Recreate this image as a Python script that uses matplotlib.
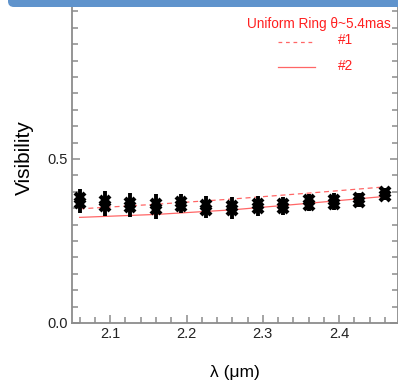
import matplotlib.pyplot as plt
import numpy as np
from matplotlib.patches import FancyBboxPatch
from matplotlib.ticker import FixedLocator, MultipleLocator

plt.rcParams['font.family'] = ['Liberation Sans', 'DejaVu Sans']

# measured visibilities, two exposures per spectral channel
wavelength = [2.060, 2.093, 2.126, 2.160, 2.193, 2.226, 2.260,
              2.293, 2.326, 2.360, 2.393, 2.426, 2.460]
vis_a = [0.380, 0.372, 0.367, 0.362, 0.369, 0.361, 0.356,
         0.364, 0.363, 0.374, 0.376, 0.381, 0.400]
vis_b = [0.366, 0.358, 0.353, 0.348, 0.357, 0.345, 0.344,
         0.350, 0.351, 0.360, 0.364, 0.369, 0.386]
vis_mid = [0.373, 0.365, 0.360, 0.355, 0.363, 0.353, 0.350,
           0.357, 0.357, 0.367, 0.370, 0.375, 0.393]
vis_err = [0.037, 0.038, 0.037, 0.038, 0.029, 0.034, 0.034,
           0.031, 0.027, 0.027, 0.026, 0.022, 0.018]

# uniform ring model curves
model_wl = [2.06, 2.16, 2.26, 2.36, 2.46]
model_1 = [0.348, 0.362, 0.378, 0.396, 0.415]
model_2 = [0.322, 0.331, 0.345, 0.365, 0.386]

fig = plt.figure(figsize=(3.98, 3.82), dpi=100)
ax = fig.add_axes([72 / 398, 59 / 382, 326 / 398, 328 / 382])

line_red = '#ff6666'
ax.plot(model_wl, model_1, '--', color=line_red, lw=0.9, dashes=(4, 3))
ax.plot(model_wl, model_2, '-', color=line_red, lw=0.9)

ax.errorbar(wavelength, vis_mid, yerr=vis_err, fmt='none',
            ecolor='black', elinewidth=2.8, capsize=0)
for v in (vis_a, vis_b):
    ax.plot(wavelength, v, 'x', color='black', ms=6.5, mew=3)

ax.set_xlim(2.05, 2.477)
ax.set_ylim(0.0, 1.0)
ax.xaxis.set_major_locator(MultipleLocator(0.1))
ax.xaxis.set_minor_locator(MultipleLocator(0.02))
ax.yaxis.set_major_locator(FixedLocator([0.0, 0.5]))
ax.yaxis.set_minor_locator(MultipleLocator(0.05))
ax.xaxis.set_major_formatter(lambda x, pos: f'{x:.1f}')
ax.yaxis.set_major_formatter(lambda y, pos: f'{y:.1f}')

grey = '#8c8c8c'
for s in ax.spines.values():
    s.set_color(grey)
    s.set_linewidth(1.3)
ax.tick_params(which='both', direction='in', color=grey, width=1.1,
               right=True, labelsize=10.5, labelcolor='#222222')
ax.tick_params(which='major', length=6, pad=3)
ax.tick_params(which='minor', length=4)

ax.set_xlabel('λ (μm)', fontsize=12.5, labelpad=17)
ax.set_ylabel('Visibility', fontsize=15)
ax.yaxis.set_label_coords(-0.118, 0.505)

# model legend, written in red inside the frame
red = '#ff2020'
fig.text(318.5 / 398, 1 - 24 / 382, 'Uniform Ring θ~5.4mas', color=red,
         fontsize=9.8, ha='center', va='center')
fig.text(338 / 398, 1 - 40.5 / 382, '#1', color=red, fontsize=9.8,
         ha='left', va='center')
fig.text(338 / 398, 1 - 65.5 / 382, '#2', color=red, fontsize=9.8,
         ha='left', va='center')
fig.add_artist(plt.Line2D([278 / 398, 315 / 398], [1 - 41.5 / 382] * 2,
                          transform=fig.transFigure, color=line_red,
                          lw=0.9, ls='--', dashes=(3, 3)))
fig.add_artist(plt.Line2D([278 / 398, 315 / 398], [1 - 66.5 / 382] * 2,
                          transform=fig.transFigure, color=line_red, lw=0.9))

# blue slide frame running across the top
frame = FancyBboxPatch((8 / 398, 1 - 7 / 382), 1.2, 0.1,
                       boxstyle='round,pad=0,rounding_size=0.015',
                       transform=fig.transFigure, facecolor='#5f93cc',
                       edgecolor='none', clip_on=False)
fig.patches.append(frame)

fig.savefig('out.png', dpi=100)
